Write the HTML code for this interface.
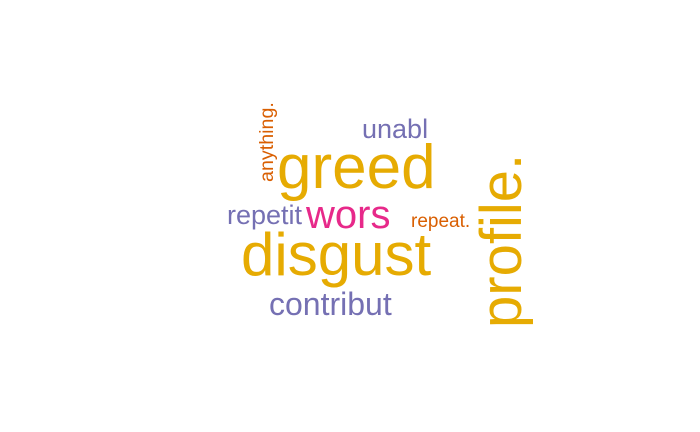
<!DOCTYPE html>
<html><head><meta charset="utf-8"><style>
html,body{margin:0;padding:0;background:#fff;}
svg{display:block;}
text{font-family:"Liberation Sans",Arial,sans-serif;}
</style></head><body>
<svg width="700" height="432" viewBox="0 0 700 432">
<rect width="700" height="432" fill="#fff"/>
<text x="277" y="188" font-size="62" fill="#e6ab02">greed</text>
<text x="241" y="275" font-size="60" fill="#e6ab02">disgust</text>
<text transform="translate(521,328) rotate(-90)" font-size="58" fill="#e6ab02">profile.</text>
<text transform="translate(273,182) rotate(-90)" font-size="19.7" fill="#d95f02">anything.</text>
<text x="362" y="138" font-size="27" fill="#7570b3">unabl</text>
<text x="227" y="224" font-size="27" fill="#7570b3">repetit</text>
<text x="306" y="228" font-size="40" fill="#e7298a">wors</text>
<text x="411" y="227" font-size="19" fill="#d95f02">repeat.</text>
<text x="269" y="315" font-size="32" fill="#7570b3">contribut</text>
</svg>
</body></html>
